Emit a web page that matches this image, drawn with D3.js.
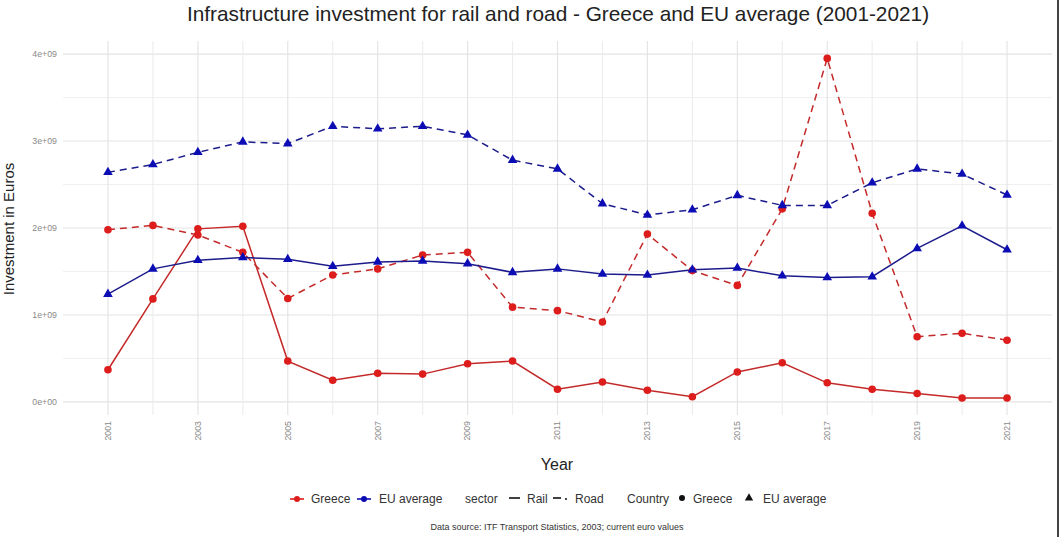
<!DOCTYPE html>
<html><head><meta charset="utf-8">
<script src="https://cdn.jsdelivr.net/npm/d3@7"></script>
<style>body{margin:0;background:#fff;}svg{display:block;font-family:"Liberation Sans",Arial,sans-serif;}</style>
</head><body><svg id="c" width="1061" height="537"></svg>
<script>
const years = d3.range(2001, 2022);
const greeceRoad = [1.98,2.03,1.92,1.72,1.19,1.46,1.53,1.69,1.72,1.09,1.05,0.92,1.93,1.51,1.34,2.22,3.95,2.17,0.75,0.79,0.71].map(v=>v*1e9);
const greeceRail = [0.37,1.185,1.99,2.02,0.47,0.25,0.33,0.32,0.44,0.47,0.146,0.23,0.135,0.06,0.345,0.45,0.22,0.146,0.097,0.046,0.046].map(v=>v*1e9);
const euRoad = [2.64,2.73,2.87,2.99,2.97,3.17,3.14,3.17,3.07,2.78,2.68,2.28,2.15,2.21,2.375,2.26,2.26,2.52,2.68,2.62,2.38].map(v=>v*1e9);
const euRail = [1.24,1.53,1.63,1.66,1.64,1.56,1.61,1.62,1.59,1.49,1.53,1.47,1.46,1.52,1.54,1.45,1.43,1.44,1.765,2.025,1.75].map(v=>v*1e9);
const yTicks = [0,1e9,2e9,3e9,4e9];
const yTickLabels = ["0e+00","1e+09","2e+09","3e+09","4e+09"];
const xTicks = [2001,2003,2005,2007,2009,2011,2013,2015,2017,2019,2021];

const series = [
  {name:"Greece", sector:"Road", values:greeceRoad},
  {name:"Greece", sector:"Rail", values:greeceRail},
  {name:"EU average", sector:"Road", values:euRoad},
  {name:"EU average", sector:"Rail", values:euRail}
];
const lineColor = {"Greece":"#c42a2a","EU average":"#1c1c8c"};
const markColor = {"Greece":"#dd1c1c","EU average":"#0c0cb4"};

const svg = d3.select("#c");
const L=63,R=1052,T=41,B=415;
const x = d3.scaleLinear().domain([2000,2022]).range([L,R]);
const y = d3.scaleLinear().domain([-0.15e9,4.15e9]).range([B,T]);

// grid
const g = svg.append("g");
d3.range(0,4.5e9,0.5e9).forEach(v=>{
  g.append("line").attr("x1",L).attr("x2",R).attr("y1",y(v)).attr("y2",y(v))
   .attr("stroke", v%1e9===0?"#e3e3e3":"#f0f0f0").attr("stroke-width", v%1e9===0?1.2:1);
});
years.forEach(yr=>{
  g.append("line").attr("x1",x(yr)).attr("x2",x(yr)).attr("y1",T).attr("y2",B)
   .attr("stroke", yr%2===1?"#e3e3e3":"#ededed").attr("stroke-width", 1.1);
});

// axes
const ya = svg.append("g").attr("transform",`translate(${L},0)`)
  .call(d3.axisLeft(y).tickValues(yTicks).tickFormat((d,i)=>yTickLabels[i]).tickSize(0).tickPadding(6));
ya.select(".domain").remove();
ya.selectAll("text").attr("fill","#8a8a8a").attr("font-size","8.8px").attr("font-family","Liberation Sans, Arial, sans-serif");

const xa = svg.append("g").attr("transform",`translate(0,${B})`)
  .call(d3.axisBottom(x).tickValues(xTicks).tickFormat(d3.format("d")).tickSize(0));
xa.select(".domain").remove();
xa.selectAll(".tick").attr("transform",null);
xa.selectAll(".tick text").attr("fill","#8a8a8a").attr("font-size","8.8px").attr("font-family","Liberation Sans, Arial, sans-serif")
  .attr("text-anchor","end").attr("x",0).attr("y",0).attr("dx","-6px").attr("dy","0.32em")
  .each(function(d){ d3.select(this).attr("transform",`translate(${x(d)},0) rotate(-90)`); });

// lines
const line = d3.line().x((d,i)=>x(years[i])).y(d=>y(d));
series.forEach(s=>{
  svg.append("path").attr("d",line(s.values)).attr("fill","none")
    .attr("stroke",lineColor[s.name]).attr("stroke-width",1.5)
    .attr("stroke-dasharray", s.sector==="Road"?"7,5":null);
});
// markers
series.forEach(s=>{
  if(s.name==="Greece"){
    svg.append("g").selectAll("circle").data(s.values).join("circle")
      .attr("cx",(d,i)=>x(years[i])).attr("cy",d=>y(d)).attr("r",3.8).attr("fill",markColor[s.name]);
  } else {
    const tri = d3.symbol().type(d3.symbolTriangle).size(40);
    svg.append("g").selectAll("path").data(s.values).join("path")
      .attr("d",tri).attr("transform",(d,i)=>`translate(${x(years[i])},${y(d)})`).attr("fill",markColor[s.name]);
  }
});

// titles
svg.append("text").attr("x",558).attr("y",21).attr("text-anchor","middle").attr("font-size","20.8px").attr("fill","#222")
  .text("Infrastructure investment for rail and road - Greece and EU average (2001-2021)");
svg.append("text").attr("transform","translate(14,229) rotate(-90)").attr("text-anchor","middle").attr("font-size","15px").attr("fill","#222")
  .text("Investment in Euros");
svg.append("text").attr("x",557).attr("y",470).attr("text-anchor","middle").attr("font-size","16px").attr("fill","#222").text("Year");

// legend
const ly = 499;
const lg = svg.append("g").attr("font-size","12px").attr("fill","#333");
function colorKey(cx, col){
  lg.append("line").attr("x1",cx-7).attr("x2",cx+7).attr("y1",ly).attr("y2",ly).attr("stroke",col).attr("stroke-width",1.6);
  lg.append("circle").attr("cx",cx).attr("cy",ly).attr("r",3).attr("fill",col);
}
colorKey(297, markColor["Greece"]);
lg.append("text").attr("x",311).attr("y",ly+4).text("Greece");
colorKey(364, markColor["EU average"]);
lg.append("text").attr("x",379).attr("y",ly+4).text("EU average");
lg.append("text").attr("x",465).attr("y",ly+4).text("sector");
lg.append("line").attr("x1",509).attr("x2",520).attr("y1",ly-1).attr("y2",ly-1).attr("stroke","#111").attr("stroke-width",1.6);
lg.append("text").attr("x",527).attr("y",ly+4).text("Rail");
lg.append("line").attr("x1",553).attr("x2",561).attr("y1",ly-1).attr("y2",ly-1).attr("stroke","#111").attr("stroke-width",1.6);
lg.append("line").attr("x1",565).attr("x2",567).attr("y1",ly).attr("y2",ly).attr("stroke","#111").attr("stroke-width",1.6);
lg.append("text").attr("x",575).attr("y",ly+4).text("Road");
lg.append("text").attr("x",627).attr("y",ly+4).text("Country");
lg.append("circle").attr("cx",682).attr("cy",ly-1).attr("r",3).attr("fill","#111");
lg.append("text").attr("x",693).attr("y",ly+4).text("Greece");
lg.append("path").attr("d",d3.symbol().type(d3.symbolTriangle).size(30)).attr("transform",`translate(749,${ly-1})`).attr("fill","#111");
lg.append("text").attr("x",763).attr("y",ly+4).text("EU average");

svg.append("text").attr("x",557).attr("y",530).attr("text-anchor","middle").attr("font-size","9px").attr("fill","#333")
  .text("Data source: ITF Transport Statistics, 2003; current euro values");

// right border
svg.append("line").attr("x1",1058).attr("x2",1058).attr("y1",0).attr("y2",537).attr("stroke","#444").attr("stroke-width",2);
</script></body></html>
